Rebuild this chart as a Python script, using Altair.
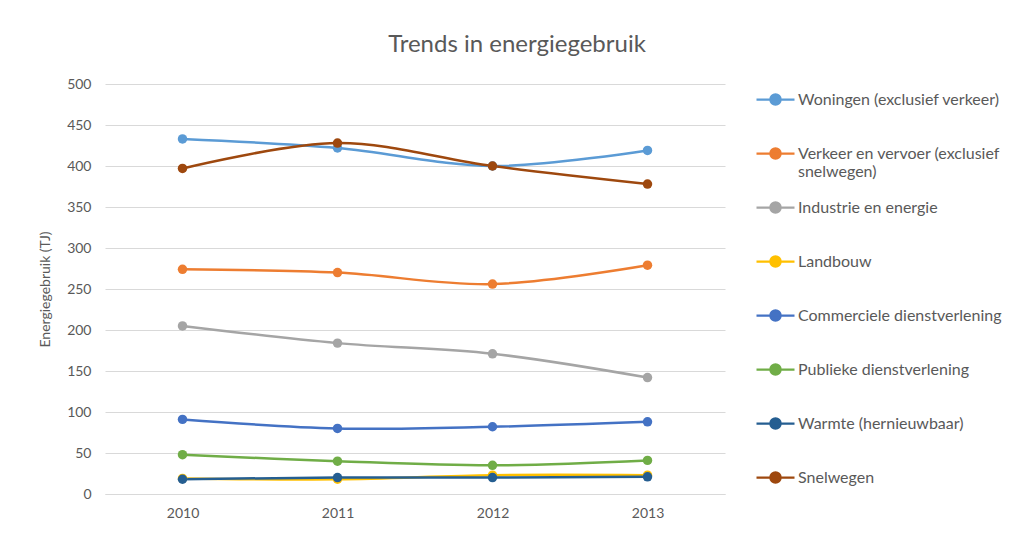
import altair as alt
import pandas as pd

years = ["2010", "2011", "2012", "2013"]
series = [
    "Woningen (exclusief verkeer)",
    "Verkeer en vervoer (exclusief snelwegen)",
    "Industrie en energie",
    "Landbouw",
    "Commerciele dienstverlening",
    "Publieke dienstverlening",
    "Warmte (hernieuwbaar)",
    "Snelwegen",
]
woningen = [433, 422, 400, 419]
verkeer = [274, 270, 256, 279]
industrie = [205, 184, 171, 142]
landbouw = [19, 18, 23, 23]
commercieel = [91, 80, 82, 88]
publiek = [48, 40, 35, 41]
warmte = [18, 20, 20, 21]
snelwegen = [397, 428, 400, 378]
colors = ["#5B9BD5", "#ED7D31", "#A5A5A5", "#FFC000", "#4472C4", "#70AD47", "#255E91", "#9E480E"]

values = [woningen, verkeer, industrie, landbouw, commercieel, publiek, warmte, snelwegen]
rows = []
for s, vals in zip(series, values):
    for y, v in zip(years, vals):
        rows.append({"Jaar": y, "Sector": s, "Waarde": v})
df = pd.DataFrame(rows)

FONT = "Lato"
GREY = "#595959"

sym = "M-1,0L1,0M0.27,0A0.27,0.27,0,1,1,-0.27,0A0.27,0.27,0,1,1,0.27,0"

color = alt.Color(
    "Sector:N",
    sort=series,
    scale=alt.Scale(domain=series, range=colors),
    legend=alt.Legend(
        title=None,
        orient="none",
        legendX=650,
        legendY=-5,
        symbolType=sym,
        symbolSize=1444,
        symbolStrokeWidth=2.25,
        labelFont=FONT,
        labelFontSize=16,
        labelColor=GREY,
        labelLimit=300,
        labelOffset=2,
        labelBaseline="middle",
        gridAlign="all",
        rowPadding=7,
        labelExpr="datum.label == 'Verkeer en vervoer (exclusief snelwegen)' ? ['Verkeer en vervoer (exclusief', 'snelwegen)'] : datum.label",
    ),
)

x = alt.X(
    "Jaar:N",
    sort=years,
    title=None,
    scale=alt.Scale(paddingInner=0, paddingOuter=0, align=0.5),
    axis=alt.Axis(
        labelAngle=0, labelFont=FONT, labelFontSize=14, labelColor=GREY,
        ticks=False, domainColor="#D9D9D9", domainWidth=1.2, labelPadding=12, grid=False,
    ),
)
y = alt.Y(
    "Waarde:Q",
    title="Energiegebruik (TJ)",
    scale=alt.Scale(domain=[0, 500], nice=False),
    axis=alt.Axis(
        values=list(range(0, 501, 50)), labelFont=FONT, labelFontSize=14, labelColor=GREY,
        titleFont=FONT, titleFontSize=14, titleColor=GREY, titleFontWeight="normal",
        ticks=False, domain=False, gridColor="#D9D9D9", gridWidth=1.2, labelPadding=14, titlePadding=14,
    ),
)

base = alt.Chart(df).encode(x=x, y=y, color=color)
lines = base.mark_line(interpolate="catmull-rom", strokeWidth=2.5)
points = base.mark_circle(size=90, opacity=1)

chart = (
    alt.layer(lines, points)
    .properties(
        width=620,
        height=410,
        title=alt.TitleParams(
            "Trends in energiegebruik", font=FONT, fontSize=24, fontWeight="normal",
            color=GREY, anchor="middle", frame="group", offset=20, dx=102,
        ),
        padding={"left": 97, "top": 76, "right": 280, "bottom": 35},
        autosize=alt.AutoSizeParams(type="none"),
    )
    .configure_view(stroke=None)
)

chart.save("out.html", embed_options={"renderer": "svg", "actions": False})
